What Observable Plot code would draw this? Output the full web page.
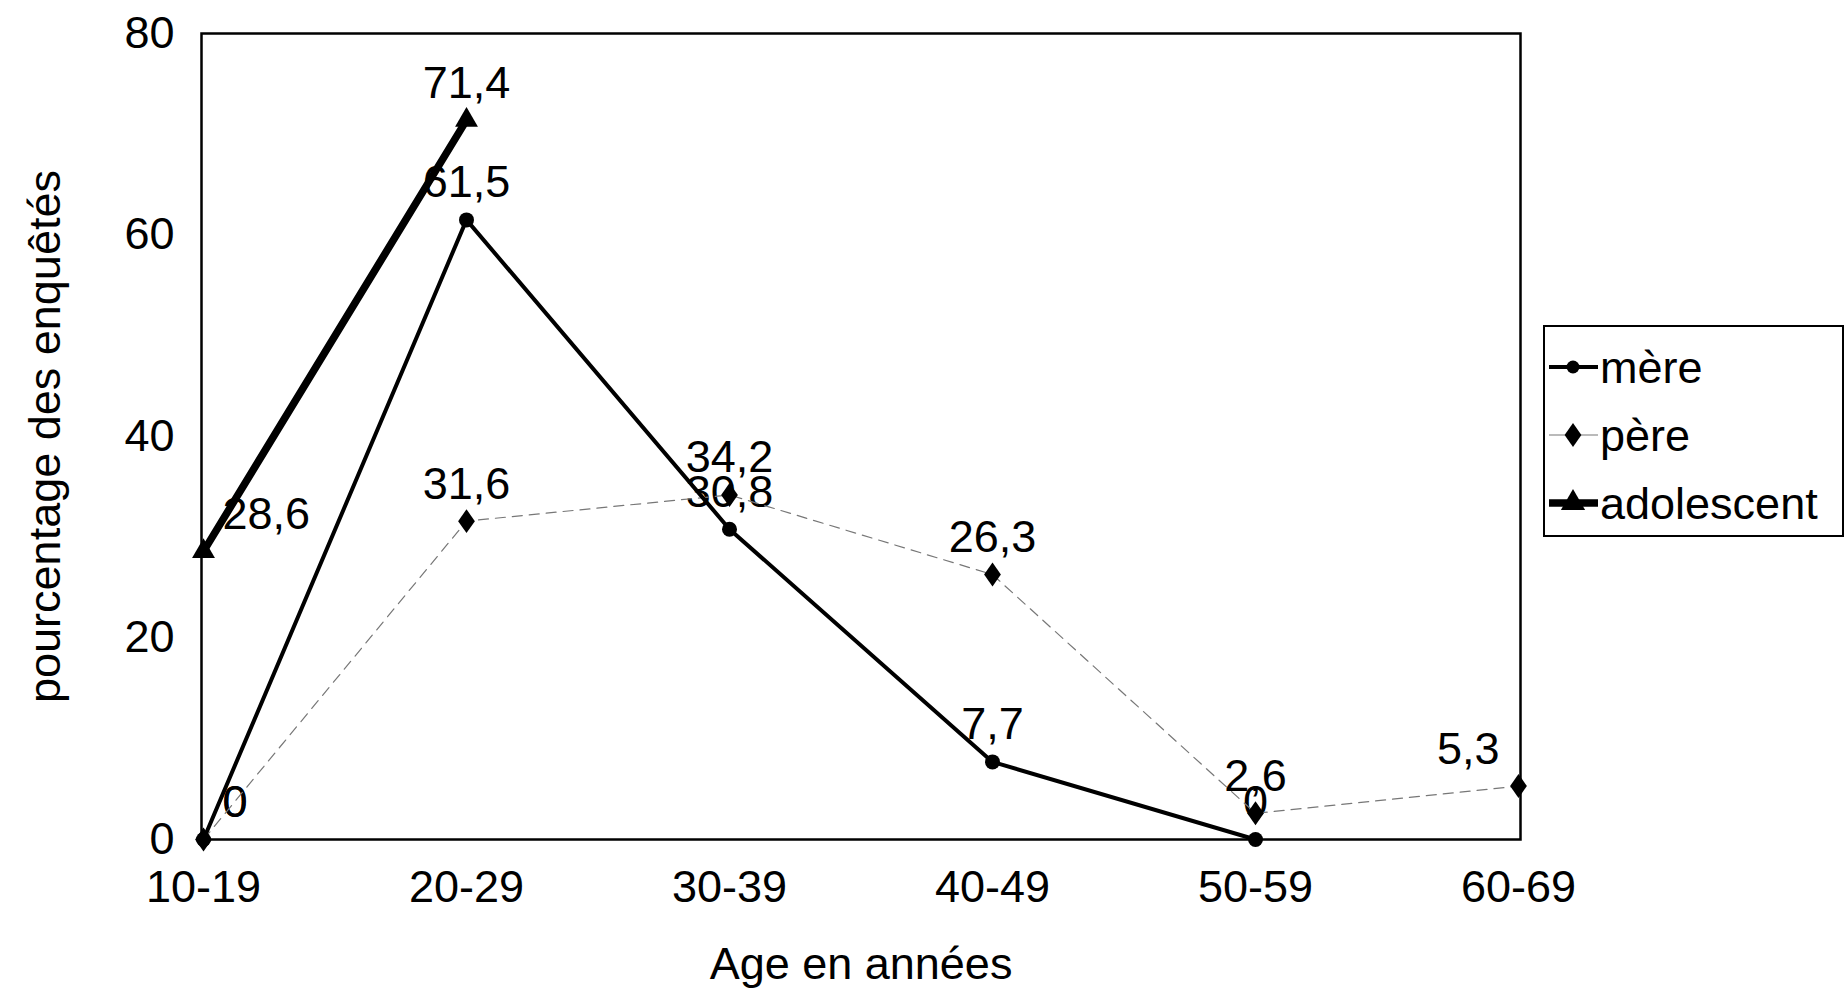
<!DOCTYPE html>
<html>
<head>
<meta charset="utf-8">
<script src="https://cdn.jsdelivr.net/npm/d3@7"></script>
<script src="https://cdn.jsdelivr.net/npm/@observablehq/plot@0.6"></script>
<style>
  body { margin: 0; background: #fff; }
  #chart svg { font-family: "Liberation Sans", Arial, sans-serif; display: block; }
</style>
</head>
<body>
<div id="chart"></div>
<script>
// Age groups on the x axis
const ageGroups = ["10-19", "20-29", "30-39", "40-49", "50-59", "60-69"];

// Percentage of respondents per age group, one array per series
const mere = [0, 61.5, 30.8, 7.7, 0];
const pere = [0, 31.6, 34.2, 26.3, 2.6, 5.3];
const adolescent = [28.6, 71.4];

const seriesNames = ["mère", "père", "adolescent"];
const yTicks = [0, 20, 40, 60, 80];

// Long-format table built from the arrays above
const rows = [];
[mere, pere, adolescent].forEach((vals, i) =>
  vals.forEach((v, j) => rows.push({serie: seriesNames[i], age: ageGroups[j], value: v}))
);
const of = (name) => rows.filter((d) => d.serie === name);
const fmt = (v) => String(v).replace(".", ",");

// A diamond a little taller than wide
const diamond = {
  draw(context, size) {
    const h = Math.sqrt(size / 1.4);
    const w = h * 0.7;
    context.moveTo(0, -h);
    context.lineTo(w, 0);
    context.lineTo(0, h);
    context.lineTo(-w, 0);
    context.closePath();
  }
};

const first = ageGroups[0];
const last = ageGroups[ageGroups.length - 1];
const FS = 45;
const W = 1848, H = 999;
const mR = 328;

const plot = Plot.plot({
  width: W,
  height: H,
  marginLeft: 201,
  marginRight: mR,
  marginTop: 33,
  marginBottom: 160,
  style: {fontFamily: '"Liberation Sans", Arial, sans-serif', color: "black", background: "white"},
  x: {type: "point", domain: ageGroups, padding: 0, axis: null},
  y: {domain: [0, 80], axis: null},
  marks: [
    Plot.axisX({tickSize: 0, tickPadding: 31, fontSize: FS, label: null}),
    Plot.axisY({ticks: yTicks, tickSize: 0, tickPadding: 27, fontSize: FS, label: null, tickFormat: (d) => d}),

    // value labels (drawn beneath the lines)
    Plot.text(rows.filter((d) => d.age !== first && d.age !== last), {
      x: "age", y: "value", text: (d) => fmt(d.value), dy: -37, fontSize: FS, fill: "black"
    }),
    Plot.text(rows.filter((d) => d.age === first), {
      x: "age", y: "value", text: (d) => fmt(d.value), dy: -37, dx: 19, textAnchor: "start", fontSize: FS, fill: "black"
    }),
    Plot.text(rows.filter((d) => d.age === last), {
      x: "age", y: "value", text: (d) => fmt(d.value), dy: -37, dx: -19, textAnchor: "end", fontSize: FS, fill: "black"
    }),

    // père: thin dashed line with diamonds
    Plot.line(of("père"), {x: "age", y: "value", stroke: "#777", strokeWidth: 1.2, strokeDasharray: "10,7"}),
    Plot.dot(of("père"), {x: "age", y: "value", symbol: diamond, r: 8, fill: "black", stroke: "none"}),

    // mère: solid line with circles
    Plot.line(of("mère"), {x: "age", y: "value", stroke: "black", strokeWidth: 4}),
    Plot.dot(of("mère"), {x: "age", y: "value", symbol: "circle", r: 7.5, fill: "black", stroke: "none"}),

    // adolescent: heavy line with triangles
    Plot.line(of("adolescent"), {x: "age", y: "value", stroke: "black", strokeWidth: 7.5}),
    Plot.dot(of("adolescent"), {x: "age", y: "value", symbol: "triangle", r: 8.5, fill: "black", stroke: "none"}),

    Plot.frame({stroke: "black", strokeWidth: 2.5}),

    // axis titles
    Plot.text(["pourcentage des enquêtés"], {
      frameAnchor: "left", text: (d) => d, rotate: -90, dx: -156,
      textAnchor: "middle", lineAnchor: "middle", fontSize: FS, fill: "black"
    }),
    Plot.text(["Age en années"], {
      frameAnchor: "bottom", text: (d) => d, dy: 125,
      textAnchor: "middle", lineAnchor: "middle", fontSize: FS, fill: "black"
    })
  ]
});

document.getElementById("chart").append(plot);

// Legend box to the right of the plot area
const svg = d3.select(plot);
const lx = W - mR + 24;
const legend = svg.append("g").attr("text-anchor", "start");
legend.append("rect")
  .attr("x", lx).attr("y", 326).attr("width", 299).attr("height", 210)
  .attr("fill", "white").attr("stroke", "black").attr("stroke-width", 2);

const legendItems = [
  {name: "mère", type: d3.symbolCircle, r: 6.5, stroke: "black", width: 4},
  {name: "père", type: diamond, r: 8, stroke: "#777", width: 1.2},
  {name: "adolescent", type: d3.symbolTriangle, r: 9, stroke: "black", width: 7.5}
];
legendItems.forEach((it, i) => {
  const cy = 367 + i * 68;
  const g = legend.append("g");
  g.append("line")
    .attr("x1", lx + 5).attr("x2", lx + 54).attr("y1", cy).attr("y2", cy)
    .attr("stroke", it.stroke).attr("stroke-width", it.width);
  g.append("path")
    .attr("transform", `translate(${lx + 29},${cy})`)
    .attr("d", d3.symbol(it.type, Math.PI * it.r * it.r)())
    .attr("fill", "black");
  g.append("text")
    .attr("x", lx + 56).attr("y", cy)
    .attr("dy", "0.35em")
    .attr("text-anchor", "start")
    .attr("font-size", FS)
    .attr("fill", "black")
    .text(it.name);
});
</script>
</body>
</html>
